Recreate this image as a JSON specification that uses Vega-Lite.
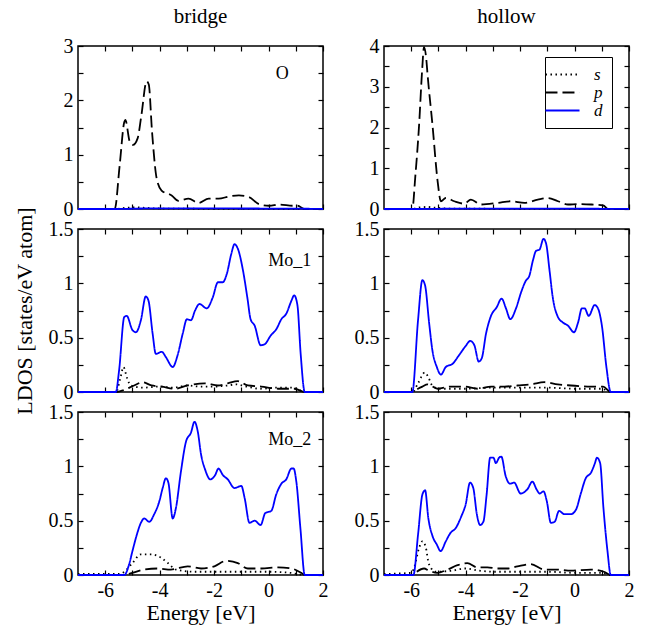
{
"$schema": "https://vega.github.io/schema/vega-lite/v6.json",
"padding": {"left": 12, "top": 5, "right": 5, "bottom": 5},
"background": "white",
"columns": 2,
"bounds": "flush",
"spacing": {"row": 20, "column": 61},
"config": {
  "view": {"stroke": "black", "strokeWidth": 1.5},
  "axis": {"labelFont": "Liberation Serif", "labelFontSize": 20, "labelColor": "black", "titleFont": "Liberation Serif", "titleFontSize": 22, "titleFontWeight": "normal", "titleColor": "black", "tickColor": "black", "tickSize": -5, "tickWidth": 1.2, "domain": false, "grid": false, "labelFlush": false, "labelOverlap": false, "labelPadding": 10},
  "axisX": {"labelPadding": 10, "titlePadding": 2},
  "axisY": {"titlePadding": 12},
  "title": {"font": "Liberation Serif", "fontSize": 21, "fontWeight": "normal", "color": "black", "offset": 9, "anchor": "middle"},
  "legend": {"labelFont": "Liberation Serif", "labelFontSize": 17, "labelFontStyle": "italic", "labelColor": "black", "padding": 9, "strokeColor": "black", "fillColor": "white", "rowPadding": 0, "labelOffset": 23, "symbolSize": 225, "symbolStrokeWidth": 1.8}
},
"datasets": {
"bO": [
{"series":"s","E":-7,"v":0},{"series":"s","E":-5.6,"v":0},{"series":"s","E":-5.3,"v":0.02},{"series":"s","E":-4.9,"v":0.03},{"series":"s","E":-4.5,"v":0.02},{"series":"s","E":-4.1,"v":0.01},{"series":"s","E":-3,"v":0.005},{"series":"s","E":1.3,"v":0},{"series":"s","E":2,"v":0},
{"series":"p","E":-7,"v":0},{"series":"p","E":-5.65,"v":0},{"series":"p","E":-5.47,"v":0.8},{"series":"p","E":-5.3,"v":1.6},{"series":"p","E":-5.26,"v":1.64},{"series":"p","E":-5.1,"v":1.24},{"series":"p","E":-4.98,"v":1.18},{"series":"p","E":-4.81,"v":1.3},{"series":"p","E":-4.67,"v":1.73},{"series":"p","E":-4.48,"v":2.35},{"series":"p","E":-4.4,"v":2.29},{"series":"p","E":-4.28,"v":1.42},{"series":"p","E":-4.11,"v":0.56},{"series":"p","E":-3.93,"v":0.34},{"series":"p","E":-3.56,"v":0.25},{"series":"p","E":-3.31,"v":0.15},{"series":"p","E":-2.94,"v":0.19},{"series":"p","E":-2.57,"v":0.11},{"series":"p","E":-2.2,"v":0.19},{"series":"p","E":-1.83,"v":0.19},{"series":"p","E":-1.46,"v":0.23},{"series":"p","E":-1.09,"v":0.25},{"series":"p","E":-0.72,"v":0.22},{"series":"p","E":-0.35,"v":0.09},{"series":"p","E":0.02,"v":0.06},{"series":"p","E":0.4,"v":0.08},{"series":"p","E":0.89,"v":0.06},{"series":"p","E":1.07,"v":0.06},{"series":"p","E":1.32,"v":0},{"series":"p","E":2,"v":0},
{"series":"d","E":-7,"v":0},{"series":"d","E":-5.6,"v":0},{"series":"d","E":-4.5,"v":0.01},{"series":"d","E":-2,"v":0.01},{"series":"d","E":1.3,"v":0.005},{"series":"d","E":2,"v":0}
],
"hO": [
{"series":"s","E":-7,"v":0},{"series":"s","E":-5.95,"v":0},{"series":"s","E":-5.7,"v":0.04},{"series":"s","E":-5.4,"v":0.05},{"series":"s","E":-5.1,"v":0.03},{"series":"s","E":-4.5,"v":0.01},{"series":"s","E":-3,"v":0.005},{"series":"s","E":2,"v":0},
{"series":"p","E":-7,"v":0},{"series":"p","E":-5.96,"v":0},{"series":"p","E":-5.85,"v":0.8},{"series":"p","E":-5.71,"v":2.07},{"series":"p","E":-5.6,"v":3.4},{"series":"p","E":-5.53,"v":3.97},{"series":"p","E":-5.45,"v":3.7},{"series":"p","E":-5.4,"v":3.3},{"series":"p","E":-5.22,"v":2.07},{"series":"p","E":-5.03,"v":0.68},{"series":"p","E":-4.91,"v":0.19},{"series":"p","E":-4.73,"v":0.27},{"series":"p","E":-4.42,"v":0.19},{"series":"p","E":-4.05,"v":0.13},{"series":"p","E":-3.81,"v":0.23},{"series":"p","E":-3.44,"v":0.11},{"series":"p","E":-2.82,"v":0.15},{"series":"p","E":-2.33,"v":0.19},{"series":"p","E":-1.84,"v":0.15},{"series":"p","E":-1.35,"v":0.23},{"series":"p","E":-0.98,"v":0.27},{"series":"p","E":-0.61,"v":0.19},{"series":"p","E":-0.24,"v":0.11},{"series":"p","E":0.13,"v":0.12},{"series":"p","E":0.62,"v":0.11},{"series":"p","E":1.05,"v":0.09},{"series":"p","E":1.23,"v":0},{"series":"p","E":2,"v":0},
{"series":"d","E":-7,"v":0},{"series":"d","E":-5.9,"v":0},{"series":"d","E":-4,"v":0.01},{"series":"d","E":1.2,"v":0.005},{"series":"d","E":2,"v":0}
],
"bM1": [
{"series":"s","E":-7,"v":0},{"series":"s","E":-5.6,"v":0},{"series":"s","E":-5.45,"v":0.12},{"series":"s","E":-5.33,"v":0.23},{"series":"s","E":-5.2,"v":0.13},{"series":"s","E":-5.06,"v":0.06},{"series":"s","E":-4.6,"v":0.04},{"series":"s","E":-4,"v":0.05},{"series":"s","E":-3.5,"v":0.04},{"series":"s","E":-3,"v":0.06},{"series":"s","E":-2.5,"v":0.05},{"series":"s","E":-2,"v":0.05},{"series":"s","E":-1.5,"v":0.06},{"series":"s","E":-1.2,"v":0.07},{"series":"s","E":-0.8,"v":0.05},{"series":"s","E":-0.3,"v":0.03},{"series":"s","E":0.3,"v":0.04},{"series":"s","E":0.9,"v":0.04},{"series":"s","E":1.33,"v":0},{"series":"s","E":2,"v":0},
{"series":"p","E":-7,"v":0},{"series":"p","E":-5.6,"v":0},{"series":"p","E":-5.3,"v":0.02},{"series":"p","E":-4.94,"v":0.06},{"series":"p","E":-4.63,"v":0.09},{"series":"p","E":-4.3,"v":0.06},{"series":"p","E":-3.93,"v":0.05},{"series":"p","E":-3.44,"v":0.03},{"series":"p","E":-2.97,"v":0.06},{"series":"p","E":-2.35,"v":0.08},{"series":"p","E":-1.86,"v":0.06},{"series":"p","E":-1.5,"v":0.08},{"series":"p","E":-1.13,"v":0.1},{"series":"p","E":-0.76,"v":0.06},{"series":"p","E":-0.27,"v":0.05},{"series":"p","E":0.35,"v":0.03},{"series":"p","E":0.96,"v":0.03},{"series":"p","E":1.33,"v":0},{"series":"p","E":2,"v":0},
{"series":"d","E":-7,"v":0},{"series":"d","E":-5.61,"v":0},{"series":"d","E":-5.49,"v":0.2},{"series":"d","E":-5.3,"v":0.69},{"series":"d","E":-5.21,"v":0.7},{"series":"d","E":-5.0,"v":0.57},{"series":"d","E":-4.87,"v":0.55},{"series":"d","E":-4.69,"v":0.66},{"series":"d","E":-4.51,"v":0.88},{"series":"d","E":-4.41,"v":0.84},{"series":"d","E":-4.26,"v":0.54},{"series":"d","E":-4.14,"v":0.35},{"series":"d","E":-3.92,"v":0.37},{"series":"d","E":-3.77,"v":0.32},{"series":"d","E":-3.52,"v":0.23},{"series":"d","E":-3.34,"v":0.34},{"series":"d","E":-3.15,"v":0.54},{"series":"d","E":-3.0,"v":0.67},{"series":"d","E":-2.85,"v":0.66},{"series":"d","E":-2.7,"v":0.75},{"series":"d","E":-2.54,"v":0.81},{"series":"d","E":-2.27,"v":0.77},{"series":"d","E":-2.05,"v":0.87},{"series":"d","E":-1.86,"v":1.01},{"series":"d","E":-1.68,"v":1.01},{"series":"d","E":-1.53,"v":1.09},{"series":"d","E":-1.37,"v":1.27},{"series":"d","E":-1.25,"v":1.36},{"series":"d","E":-1.13,"v":1.32},{"series":"d","E":-0.94,"v":1.12},{"series":"d","E":-0.78,"v":0.87},{"series":"d","E":-0.66,"v":0.67},{"series":"d","E":-0.51,"v":0.61},{"series":"d","E":-0.29,"v":0.43},{"series":"d","E":-0.14,"v":0.44},{"series":"d","E":0.08,"v":0.52},{"series":"d","E":0.29,"v":0.58},{"series":"d","E":0.47,"v":0.67},{"series":"d","E":0.65,"v":0.72},{"series":"d","E":0.84,"v":0.84},{"series":"d","E":0.94,"v":0.89},{"series":"d","E":1.06,"v":0.8},{"series":"d","E":1.18,"v":0.35},{"series":"d","E":1.33,"v":0},{"series":"d","E":2,"v":0}
],
"hM1": [
{"series":"s","E":-7,"v":0},{"series":"s","E":-5.95,"v":0},{"series":"s","E":-5.75,"v":0.08},{"series":"s","E":-5.5,"v":0.18},{"series":"s","E":-5.38,"v":0.14},{"series":"s","E":-5.2,"v":0.05},{"series":"s","E":-4.9,"v":0.03},{"series":"s","E":-4,"v":0.03},{"series":"s","E":-3,"v":0.04},{"series":"s","E":-2,"v":0.04},{"series":"s","E":-1,"v":0.04},{"series":"s","E":0,"v":0.03},{"series":"s","E":1,"v":0.03},{"series":"s","E":1.33,"v":0},{"series":"s","E":2,"v":0},
{"series":"p","E":-7,"v":0},{"series":"p","E":-5.95,"v":0},{"series":"p","E":-5.75,"v":0.03},{"series":"p","E":-5.59,"v":0.05},{"series":"p","E":-5.4,"v":0.07},{"series":"p","E":-5.03,"v":0.03},{"series":"p","E":-4.54,"v":0.05},{"series":"p","E":-4.05,"v":0.05},{"series":"p","E":-3.56,"v":0.03},{"series":"p","E":-3.07,"v":0.05},{"series":"p","E":-2.58,"v":0.05},{"series":"p","E":-2.09,"v":0.06},{"series":"p","E":-1.6,"v":0.07},{"series":"p","E":-1.11,"v":0.09},{"series":"p","E":-0.62,"v":0.07},{"series":"p","E":-0.13,"v":0.06},{"series":"p","E":0.6,"v":0.05},{"series":"p","E":1.05,"v":0.05},{"series":"p","E":1.33,"v":0},{"series":"p","E":2,"v":0},
{"series":"d","E":-7,"v":0},{"series":"d","E":-5.96,"v":0},{"series":"d","E":-5.75,"v":0.66},{"series":"d","E":-5.59,"v":1.03},{"series":"d","E":-5.49,"v":0.98},{"series":"d","E":-5.34,"v":0.63},{"series":"d","E":-5.22,"v":0.38},{"series":"d","E":-5.06,"v":0.23},{"series":"d","E":-4.91,"v":0.16},{"series":"d","E":-4.73,"v":0.23},{"series":"d","E":-4.48,"v":0.26},{"series":"d","E":-4.24,"v":0.34},{"series":"d","E":-4.01,"v":0.42},{"series":"d","E":-3.83,"v":0.47},{"series":"d","E":-3.68,"v":0.43},{"series":"d","E":-3.52,"v":0.28},{"series":"d","E":-3.41,"v":0.31},{"series":"d","E":-3.25,"v":0.54},{"series":"d","E":-3.07,"v":0.7},{"series":"d","E":-2.86,"v":0.78},{"series":"d","E":-2.68,"v":0.86},{"series":"d","E":-2.52,"v":0.77},{"series":"d","E":-2.36,"v":0.67},{"series":"d","E":-2.15,"v":0.77},{"series":"d","E":-1.96,"v":0.92},{"series":"d","E":-1.8,"v":1.02},{"series":"d","E":-1.66,"v":1.07},{"series":"d","E":-1.53,"v":1.21},{"series":"d","E":-1.41,"v":1.3},{"series":"d","E":-1.29,"v":1.31},{"series":"d","E":-1.14,"v":1.41},{"series":"d","E":-1.04,"v":1.36},{"series":"d","E":-0.92,"v":1.12},{"series":"d","E":-0.8,"v":0.87},{"series":"d","E":-0.61,"v":0.69},{"series":"d","E":-0.43,"v":0.64},{"series":"d","E":-0.24,"v":0.61},{"series":"d","E":-0.02,"v":0.55},{"series":"d","E":0.13,"v":0.64},{"series":"d","E":0.27,"v":0.77},{"series":"d","E":0.37,"v":0.77},{"series":"d","E":0.52,"v":0.7},{"series":"d","E":0.74,"v":0.8},{"series":"d","E":0.86,"v":0.77},{"series":"d","E":1.01,"v":0.6},{"series":"d","E":1.17,"v":0.23},{"series":"d","E":1.33,"v":0},{"series":"d","E":2,"v":0}
],
"bM2": [
{"series":"s","E":-7,"v":0.01},{"series":"s","E":-5.5,"v":0.01},{"series":"s","E":-5.3,"v":0.03},{"series":"s","E":-5.0,"v":0.11},{"series":"s","E":-4.69,"v":0.19},{"series":"s","E":-4.32,"v":0.19},{"series":"s","E":-3.95,"v":0.16},{"series":"s","E":-3.7,"v":0.11},{"series":"s","E":-3.4,"v":0.05},{"series":"s","E":-2.72,"v":0.03},{"series":"s","E":-2,"v":0.03},{"series":"s","E":-1,"v":0.03},{"series":"s","E":0,"v":0.03},{"series":"s","E":0.8,"v":0.02},{"series":"s","E":1.33,"v":0},{"series":"s","E":2,"v":0},
{"series":"p","E":-7,"v":0},{"series":"p","E":-5.3,"v":0},{"series":"p","E":-5.0,"v":0.02},{"series":"p","E":-4.57,"v":0.05},{"series":"p","E":-4.08,"v":0.06},{"series":"p","E":-3.59,"v":0.05},{"series":"p","E":-2.97,"v":0.08},{"series":"p","E":-2.48,"v":0.06},{"series":"p","E":-1.99,"v":0.08},{"series":"p","E":-1.56,"v":0.13},{"series":"p","E":-1.13,"v":0.11},{"series":"p","E":-0.76,"v":0.06},{"series":"p","E":-0.27,"v":0.06},{"series":"p","E":0.35,"v":0.07},{"series":"p","E":0.84,"v":0.06},{"series":"p","E":1.2,"v":0.02},{"series":"p","E":1.33,"v":0},{"series":"p","E":2,"v":0},
{"series":"d","E":-7,"v":0},{"series":"d","E":-5.3,"v":0},{"series":"d","E":-5.12,"v":0.1},{"series":"d","E":-5.0,"v":0.22},{"series":"d","E":-4.84,"v":0.37},{"series":"d","E":-4.69,"v":0.48},{"series":"d","E":-4.57,"v":0.52},{"series":"d","E":-4.38,"v":0.49},{"series":"d","E":-4.2,"v":0.56},{"series":"d","E":-4.01,"v":0.68},{"series":"d","E":-3.89,"v":0.8},{"series":"d","E":-3.77,"v":0.89},{"series":"d","E":-3.68,"v":0.85},{"series":"d","E":-3.52,"v":0.52},{"series":"d","E":-3.4,"v":0.62},{"series":"d","E":-3.22,"v":0.95},{"series":"d","E":-3.03,"v":1.23},{"series":"d","E":-2.85,"v":1.31},{"series":"d","E":-2.72,"v":1.41},{"series":"d","E":-2.6,"v":1.32},{"series":"d","E":-2.48,"v":1.11},{"series":"d","E":-2.33,"v":0.97},{"series":"d","E":-2.14,"v":0.88},{"series":"d","E":-1.96,"v":0.92},{"series":"d","E":-1.84,"v":0.98},{"series":"d","E":-1.68,"v":0.92},{"series":"d","E":-1.5,"v":0.88},{"series":"d","E":-1.25,"v":0.8},{"series":"d","E":-1.0,"v":0.82},{"series":"d","E":-0.88,"v":0.71},{"series":"d","E":-0.7,"v":0.48},{"series":"d","E":-0.51,"v":0.5},{"series":"d","E":-0.29,"v":0.46},{"series":"d","E":-0.12,"v":0.57},{"series":"d","E":0.1,"v":0.59},{"series":"d","E":0.28,"v":0.74},{"series":"d","E":0.47,"v":0.84},{"series":"d","E":0.65,"v":0.88},{"series":"d","E":0.84,"v":0.98},{"series":"d","E":0.92,"v":0.98},{"series":"d","E":1.02,"v":0.86},{"series":"d","E":1.17,"v":0.43},{"series":"d","E":1.33,"v":0},{"series":"d","E":2,"v":0}
],
"hM2": [
{"series":"s","E":-7,"v":0.01},{"series":"s","E":-6.0,"v":0.02},{"series":"s","E":-5.9,"v":0.06},{"series":"s","E":-5.71,"v":0.25},{"series":"s","E":-5.59,"v":0.31},{"series":"s","E":-5.47,"v":0.26},{"series":"s","E":-5.35,"v":0.1},{"series":"s","E":-5.1,"v":0.03},{"series":"s","E":-4.5,"v":0.04},{"series":"s","E":-4.0,"v":0.06},{"series":"s","E":-3.5,"v":0.04},{"series":"s","E":-3,"v":0.03},{"series":"s","E":-2,"v":0.03},{"series":"s","E":-1,"v":0.03},{"series":"s","E":0,"v":0.02},{"series":"s","E":1,"v":0.02},{"series":"s","E":1.33,"v":0},{"series":"s","E":2,"v":0},
{"series":"p","E":-7,"v":0},{"series":"p","E":-5.95,"v":0},{"series":"p","E":-5.8,"v":0.03},{"series":"p","E":-5.53,"v":0.06},{"series":"p","E":-5.35,"v":0.04},{"series":"p","E":-5.04,"v":0.02},{"series":"p","E":-4.67,"v":0.05},{"series":"p","E":-4.3,"v":0.09},{"series":"p","E":-3.94,"v":0.11},{"series":"p","E":-3.57,"v":0.07},{"series":"p","E":-3.2,"v":0.07},{"series":"p","E":-2.83,"v":0.06},{"series":"p","E":-2.47,"v":0.06},{"series":"p","E":-2.1,"v":0.08},{"series":"p","E":-1.61,"v":0.1},{"series":"p","E":-1.12,"v":0.05},{"series":"p","E":-0.63,"v":0.05},{"series":"p","E":-0.14,"v":0.04},{"series":"p","E":0.6,"v":0.05},{"series":"p","E":1.08,"v":0.03},{"series":"p","E":1.33,"v":0},{"series":"p","E":2,"v":0},
{"series":"d","E":-7,"v":0},{"series":"d","E":-5.92,"v":0},{"series":"d","E":-5.75,"v":0.37},{"series":"d","E":-5.59,"v":0.74},{"series":"d","E":-5.49,"v":0.78},{"series":"d","E":-5.37,"v":0.52},{"series":"d","E":-5.22,"v":0.36},{"series":"d","E":-5.06,"v":0.28},{"series":"d","E":-4.92,"v":0.22},{"series":"d","E":-4.73,"v":0.31},{"series":"d","E":-4.55,"v":0.39},{"series":"d","E":-4.37,"v":0.43},{"series":"d","E":-4.16,"v":0.54},{"series":"d","E":-4.0,"v":0.65},{"series":"d","E":-3.84,"v":0.85},{"series":"d","E":-3.72,"v":0.8},{"series":"d","E":-3.59,"v":0.56},{"series":"d","E":-3.47,"v":0.46},{"series":"d","E":-3.35,"v":0.49},{"series":"d","E":-3.23,"v":0.74},{"series":"d","E":-3.1,"v":1.08},{"series":"d","E":-2.98,"v":1.08},{"series":"d","E":-2.89,"v":1.03},{"series":"d","E":-2.77,"v":1.08},{"series":"d","E":-2.69,"v":1.09},{"series":"d","E":-2.53,"v":0.91},{"series":"d","E":-2.37,"v":0.84},{"series":"d","E":-2.22,"v":0.85},{"series":"d","E":-1.98,"v":0.75},{"series":"d","E":-1.73,"v":0.79},{"series":"d","E":-1.55,"v":0.86},{"series":"d","E":-1.4,"v":0.79},{"series":"d","E":-1.28,"v":0.75},{"series":"d","E":-1.14,"v":0.77},{"series":"d","E":-1.02,"v":0.68},{"series":"d","E":-0.87,"v":0.48},{"series":"d","E":-0.73,"v":0.49},{"series":"d","E":-0.57,"v":0.59},{"series":"d","E":-0.38,"v":0.56},{"series":"d","E":-0.14,"v":0.56},{"series":"d","E":0.05,"v":0.6},{"series":"d","E":0.23,"v":0.75},{"series":"d","E":0.41,"v":0.89},{"series":"d","E":0.6,"v":0.94},{"series":"d","E":0.75,"v":1.03},{"series":"d","E":0.82,"v":1.08},{"series":"d","E":0.94,"v":1.03},{"series":"d","E":1.06,"v":0.62},{"series":"d","E":1.21,"v":0.22},{"series":"d","E":1.33,"v":0},{"series":"d","E":2,"v":0}
]
},
"concat": [
{
 "width": 245, "height": 163, "title": "bridge", "data": {"name": "bO"},
 "layer": [
  {"mark": {"type": "line", "interpolate": "monotone", "strokeWidth": 1.8},
   "encoding": {
    "x": {"field": "E", "type": "quantitative", "scale": {"domain": [-7, 2], "nice": false}, "axis": {"orient": "bottom", "values": [-6,-5,-4,-3,-2,-1,0,1,2], "labels": false, "title": null}},
    "y": {"field": "v", "type": "quantitative", "scale": {"domain": [0, 3], "nice": false}, "axis": {"orient": "left", "values": [0,0.5,1,1.5,2,2.5,3], "labelExpr": "datum.value % 1 == 0 ? '' + datum.value : ''", "title": null}},
    "color": {"field": "series", "type": "nominal", "scale": {"domain": ["s","p","d"], "range": ["black","black","#0000ff"]}, "legend": {"title": null, "orient": "none", "legendX": 467, "legendY": 11, "symbolType": "M-2.27,0H2.27"}},
    "strokeDash": {"field": "series", "type": "nominal", "scale": {"domain": ["s","p","d"], "range": [[1.5,3.5],[12,5],[1,0]]}, "legend": {"title": null, "orient": "none", "legendX": 467, "legendY": 11, "symbolType": "M-2.27,0H2.27"}}
   }},
  {"mark": {"type": "line", "opacity": 0},
   "encoding": {
    "x": {"field": "E", "type": "quantitative", "axis": {"orient": "top", "values": [-6,-5,-4,-3,-2,-1,0,1,2], "labels": false, "title": null}},
    "y": {"field": "v", "type": "quantitative", "axis": {"orient": "right", "values": [0,0.5,1,1.5,2,2.5,3], "labels": false, "title": null}},
    "detail": {"field": "series"}
   }},
  {"data": {"values": [{}]}, "mark": {"type": "text", "font": "Liberation Serif", "fontSize": 18, "color": "black"},
   "encoding": {"x": {"datum": 0.5, "type": "quantitative", "axis": null}, "y": {"datum": 2.48, "type": "quantitative", "axis": null}, "text": {"value": "O"}}}
 ]
},
{
 "width": 245, "height": 163, "title": "hollow", "data": {"name": "hO"},
 "layer": [
  {"mark": {"type": "line", "interpolate": "monotone", "strokeWidth": 1.8},
   "encoding": {
    "x": {"field": "E", "type": "quantitative", "scale": {"domain": [-7, 2], "nice": false}, "axis": {"orient": "bottom", "values": [-6,-5,-4,-3,-2,-1,0,1,2], "labels": false, "title": null}},
    "y": {"field": "v", "type": "quantitative", "scale": {"domain": [0, 4], "nice": false}, "axis": {"orient": "left", "values": [0,0.5,1,1.5,2,2.5,3,3.5,4], "labelExpr": "datum.value % 1 == 0 ? '' + datum.value : ''", "title": null}},
    "color": {"field": "series", "type": "nominal", "scale": {"domain": ["s","p","d"], "range": ["black","black","#0000ff"]}, "legend": {"title": null, "orient": "none", "legendX": 467, "legendY": 11, "symbolType": "M-2.27,0H2.27"}},
    "strokeDash": {"field": "series", "type": "nominal", "scale": {"domain": ["s","p","d"], "range": [[1.5,3.5],[12,5],[1,0]]}, "legend": {"title": null, "orient": "none", "legendX": 467, "legendY": 11, "symbolType": "M-2.27,0H2.27"}}
   }},
  {"mark": {"type": "line", "opacity": 0},
   "encoding": {
    "x": {"field": "E", "type": "quantitative", "axis": {"orient": "top", "values": [-6,-5,-4,-3,-2,-1,0,1,2], "labels": false, "title": null}},
    "y": {"field": "v", "type": "quantitative", "axis": {"orient": "right", "values": [0,0.5,1,1.5,2,2.5,3,3.5,4], "labels": false, "title": null}},
    "detail": {"field": "series"}
   }}
 ]
},
{
 "width": 245, "height": 163, "data": {"name": "bM1"},
 "layer": [
  {"mark": {"type": "line", "interpolate": "monotone", "strokeWidth": 1.8},
   "encoding": {
    "x": {"field": "E", "type": "quantitative", "scale": {"domain": [-7, 2], "nice": false}, "axis": {"orient": "bottom", "values": [-6,-5,-4,-3,-2,-1,0,1,2], "labels": false, "title": null}},
    "y": {"field": "v", "type": "quantitative", "scale": {"domain": [0, 1.5], "nice": false}, "axis": {"orient": "left", "values": [0,0.25,0.5,0.75,1,1.25,1.5], "labelExpr": "datum.value % 0.5 == 0 ? '' + datum.value : ''", "title": "LDOS [states/eV atom]"}},
    "color": {"field": "series", "type": "nominal", "scale": {"domain": ["s","p","d"], "range": ["black","black","#0000ff"]}, "legend": {"title": null, "orient": "none", "legendX": 467, "legendY": 11, "symbolType": "M-2.27,0H2.27"}},
    "strokeDash": {"field": "series", "type": "nominal", "scale": {"domain": ["s","p","d"], "range": [[1.5,3.5],[12,5],[1,0]]}, "legend": {"title": null, "orient": "none", "legendX": 467, "legendY": 11, "symbolType": "M-2.27,0H2.27"}}
   }},
  {"mark": {"type": "line", "opacity": 0},
   "encoding": {
    "x": {"field": "E", "type": "quantitative", "axis": {"orient": "top", "values": [-6,-5,-4,-3,-2,-1,0,1,2], "labels": false, "title": null}},
    "y": {"field": "v", "type": "quantitative", "axis": {"orient": "right", "values": [0,0.25,0.5,0.75,1,1.25,1.5], "labels": false, "title": null}},
    "detail": {"field": "series"}
   }},
  {"data": {"values": [{}]}, "mark": {"type": "text", "font": "Liberation Serif", "fontSize": 18, "color": "black"},
   "encoding": {"x": {"datum": 0.78, "type": "quantitative", "axis": null}, "y": {"datum": 1.21, "type": "quantitative", "axis": null}, "text": {"value": "Mo_1"}}}
 ]
},
{
 "width": 245, "height": 163, "data": {"name": "hM1"},
 "layer": [
  {"mark": {"type": "line", "interpolate": "monotone", "strokeWidth": 1.8},
   "encoding": {
    "x": {"field": "E", "type": "quantitative", "scale": {"domain": [-7, 2], "nice": false}, "axis": {"orient": "bottom", "values": [-6,-5,-4,-3,-2,-1,0,1,2], "labels": false, "title": null}},
    "y": {"field": "v", "type": "quantitative", "scale": {"domain": [0, 1.5], "nice": false}, "axis": {"orient": "left", "values": [0,0.25,0.5,0.75,1,1.25,1.5], "labelExpr": "datum.value % 0.5 == 0 ? '' + datum.value : ''", "title": null}},
    "color": {"field": "series", "type": "nominal", "scale": {"domain": ["s","p","d"], "range": ["black","black","#0000ff"]}, "legend": {"title": null, "orient": "none", "legendX": 467, "legendY": 11, "symbolType": "M-2.27,0H2.27"}},
    "strokeDash": {"field": "series", "type": "nominal", "scale": {"domain": ["s","p","d"], "range": [[1.5,3.5],[12,5],[1,0]]}, "legend": {"title": null, "orient": "none", "legendX": 467, "legendY": 11, "symbolType": "M-2.27,0H2.27"}}
   }},
  {"mark": {"type": "line", "opacity": 0},
   "encoding": {
    "x": {"field": "E", "type": "quantitative", "axis": {"orient": "top", "values": [-6,-5,-4,-3,-2,-1,0,1,2], "labels": false, "title": null}},
    "y": {"field": "v", "type": "quantitative", "axis": {"orient": "right", "values": [0,0.25,0.5,0.75,1,1.25,1.5], "labels": false, "title": null}},
    "detail": {"field": "series"}
   }}
 ]
},
{
 "width": 245, "height": 163, "data": {"name": "bM2"},
 "layer": [
  {"mark": {"type": "line", "interpolate": "monotone", "strokeWidth": 1.8},
   "encoding": {
    "x": {"field": "E", "type": "quantitative", "scale": {"domain": [-7, 2], "nice": false}, "axis": {"orient": "bottom", "values": [-6,-5,-4,-3,-2,-1,0,1,2], "labelExpr": "datum.value % 2 == 0 ? '' + datum.value : ''", "title": "Energy [eV]"}},
    "y": {"field": "v", "type": "quantitative", "scale": {"domain": [0, 1.5], "nice": false}, "axis": {"orient": "left", "values": [0,0.25,0.5,0.75,1,1.25,1.5], "labelExpr": "datum.value % 0.5 == 0 ? '' + datum.value : ''", "title": null}},
    "color": {"field": "series", "type": "nominal", "scale": {"domain": ["s","p","d"], "range": ["black","black","#0000ff"]}, "legend": {"title": null, "orient": "none", "legendX": 467, "legendY": 11, "symbolType": "M-2.27,0H2.27"}},
    "strokeDash": {"field": "series", "type": "nominal", "scale": {"domain": ["s","p","d"], "range": [[1.5,3.5],[12,5],[1,0]]}, "legend": {"title": null, "orient": "none", "legendX": 467, "legendY": 11, "symbolType": "M-2.27,0H2.27"}}
   }},
  {"mark": {"type": "line", "opacity": 0},
   "encoding": {
    "x": {"field": "E", "type": "quantitative", "axis": {"orient": "top", "values": [-6,-5,-4,-3,-2,-1,0,1,2], "labels": false, "title": null}},
    "y": {"field": "v", "type": "quantitative", "axis": {"orient": "right", "values": [0,0.25,0.5,0.75,1,1.25,1.5], "labels": false, "title": null}},
    "detail": {"field": "series"}
   }},
  {"data": {"values": [{}]}, "mark": {"type": "text", "font": "Liberation Serif", "fontSize": 18, "color": "black"},
   "encoding": {"x": {"datum": 0.78, "type": "quantitative", "axis": null}, "y": {"datum": 1.24, "type": "quantitative", "axis": null}, "text": {"value": "Mo_2"}}}
 ]
},
{
 "width": 245, "height": 163, "data": {"name": "hM2"},
 "layer": [
  {"mark": {"type": "line", "interpolate": "monotone", "strokeWidth": 1.8},
   "encoding": {
    "x": {"field": "E", "type": "quantitative", "scale": {"domain": [-7, 2], "nice": false}, "axis": {"orient": "bottom", "values": [-6,-5,-4,-3,-2,-1,0,1,2], "labelExpr": "datum.value % 2 == 0 ? '' + datum.value : ''", "title": "Energy [eV]"}},
    "y": {"field": "v", "type": "quantitative", "scale": {"domain": [0, 1.5], "nice": false}, "axis": {"orient": "left", "values": [0,0.25,0.5,0.75,1,1.25,1.5], "labelExpr": "datum.value % 0.5 == 0 ? '' + datum.value : ''", "title": null}},
    "color": {"field": "series", "type": "nominal", "scale": {"domain": ["s","p","d"], "range": ["black","black","#0000ff"]}, "legend": {"title": null, "orient": "none", "legendX": 467, "legendY": 11, "symbolType": "M-2.27,0H2.27"}},
    "strokeDash": {"field": "series", "type": "nominal", "scale": {"domain": ["s","p","d"], "range": [[1.5,3.5],[12,5],[1,0]]}, "legend": {"title": null, "orient": "none", "legendX": 467, "legendY": 11, "symbolType": "M-2.27,0H2.27"}}
   }},
  {"mark": {"type": "line", "opacity": 0},
   "encoding": {
    "x": {"field": "E", "type": "quantitative", "axis": {"orient": "top", "values": [-6,-5,-4,-3,-2,-1,0,1,2], "labels": false, "title": null}},
    "y": {"field": "v", "type": "quantitative", "axis": {"orient": "right", "values": [0,0.25,0.5,0.75,1,1.25,1.5], "labels": false, "title": null}},
    "detail": {"field": "series"}
   }}
 ]
}
]
}
